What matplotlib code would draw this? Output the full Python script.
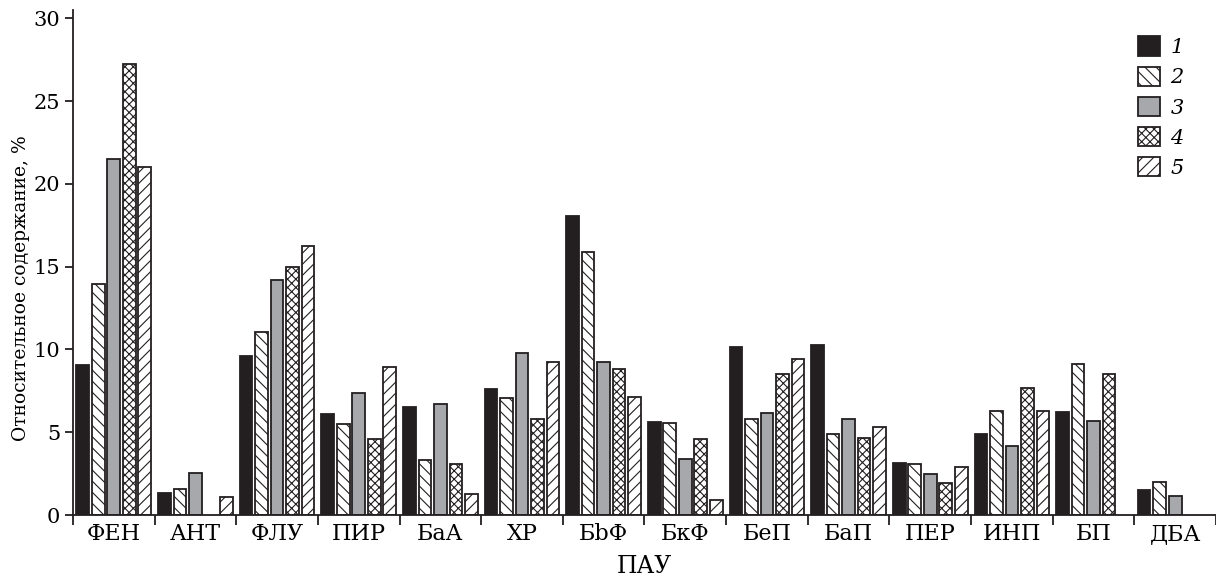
import matplotlib
matplotlib.use("Agg")
import matplotlib.pyplot as plt
import numpy as np
from matplotlib.patches import Patch

categories = ["ФЕН", "АНТ", "ФЛУ", "ПИР", "БаА", "ХР", "БbФ", "БкФ", "БеП", "БаП", "ПЕР", "ИНП", "БП", "ДБА"]
series_names = ["1", "2", "3", "4", "5"]
s1 = [9.05, 1.35, 9.6, 6.1, 6.5, 7.6, 18.05, 5.6, 10.15, 10.3, 3.15, 4.9, 6.25, 1.5]
s2 = [13.95, 1.6, 11.05, 5.5, 3.3, 7.05, 15.9, 5.55, 5.8, 4.9, 3.1, 6.3, 9.15, 2.0]
s3 = [21.5, 2.55, 14.2, 7.35, 6.7, 9.8, 9.25, 3.4, 6.15, 5.8, 2.45, 4.15, 5.65, 1.15]
s4 = [27.25, 0.0, 15.0, 4.6, 3.1, 5.8, 8.85, 4.6, 8.5, 4.65, 1.95, 7.65, 8.5, 0.0]
s5 = [21.0, 1.1, 16.25, 8.95, 1.3, 9.25, 7.15, 0.9, 9.45, 5.3, 2.9, 6.3, 0.0, 0.0]
values = [s1, s2, s3, s4, s5]

xlabel = "ПАУ"
ylabel = "Относительное содержание, %"
yticks = [0, 5, 10, 15, 20, 25, 30]

plt.rcParams['font.family'] = ['DejaVu Serif']
plt.rcParams['hatch.linewidth'] = 0.8

dark = "#231f20"
gray = "#a7a8ab"
facecolors = [dark, "white", gray, "white", "white"]
hatches = [None, "\\\\\\", None, "xxxx", "///"]

fig = plt.figure(figsize=(12.16, 5.79), dpi=100)
ax = fig.add_axes([0.060, 0.1105, 0.94, 0.872])

x = np.arange(len(categories))
step = 0.19
width = 0.155
for i, vals in enumerate(values):
    pos = x + (i - 2) * step
    v = np.array(vals)
    mask = v > 0
    ax.bar(pos[mask], v[mask], width=width, color=facecolors[i], edgecolor=dark,
           linewidth=1.3, hatch=hatches[i], zorder=2)

ax.set_xlim(-0.5, len(categories) - 0.5)
ax.set_ylim(0, 30.5)
ax.set_yticks(yticks)
ax.set_yticklabels([str(t) for t in yticks], fontsize=15)

ax.set_xticks(np.arange(len(categories) + 1) - 0.5)
ax.set_xticklabels([])
ax.set_xticks(x, minor=True)
ax.set_xticklabels(categories, minor=True, fontsize=16)
ax.tick_params(axis='x', which='minor', length=0, pad=6)
ax.tick_params(axis='x', which='major', length=7, width=1.3, direction='out', color=dark)
ax.tick_params(axis='y', length=6, width=1.3, direction='out', color=dark, pad=3)

for side in ['top', 'right']:
    ax.spines[side].set_visible(False)
for side in ['left', 'bottom']:
    ax.spines[side].set_linewidth(1.3)
    ax.spines[side].set_color(dark)

ax.set_xlabel(xlabel, fontsize=17, labelpad=7)
ax.set_ylabel(ylabel, fontsize=13.5)
ax.yaxis.set_label_coords(-0.038, 0.45)

handles = [Patch(facecolor=facecolors[i], edgecolor=dark, hatch=hatches[i], linewidth=1.3)
           for i in range(5)]
leg = ax.legend(handles, series_names, loc='upper right', bbox_to_anchor=(0.988, 0.985),
                frameon=False, prop={'style': 'italic', 'size': 15},
                handlelength=1.05, handleheight=1.05, labelspacing=0.45, handletextpad=0.5)

fig.savefig("out.png", dpi=100)
